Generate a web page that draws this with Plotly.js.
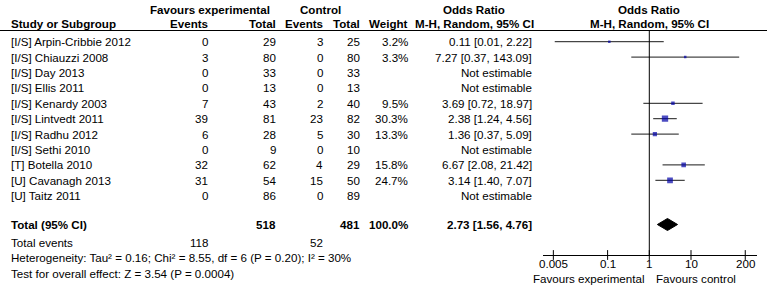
<!DOCTYPE html>
<html>
<head>
<meta charset="utf-8">
<script src="https://cdn.plot.ly/plotly-3.0.1.min.js"></script>
<style>html,body{margin:0;padding:0;background:#fff;}#chart{width:767px;height:294px;}</style>
</head>
<body>
<div id="chart"></div>
<script>
// ---- data ----
const studies = ["[I/S] Arpin-Cribbie 2012", "[I/S] Chiauzzi 2008", "[I/S] Day 2013", "[I/S] Ellis 2011", "[I/S] Kenardy 2003", "[I/S] Lintvedt 2011", "[I/S] Radhu 2012", "[I/S] Sethi 2010", "[T] Botella 2010", "[U] Cavanagh 2013", "[U] Taitz 2011"];
const expEvents = [0, 3, 0, 0, 7, 39, 6, 0, 32, 31, 0];
const expTotal = [29, 80, 33, 13, 43, 81, 28, 9, 62, 54, 86];
const ctlEvents = [3, 0, 0, 0, 2, 23, 5, 0, 4, 15, 0];
const ctlTotal = [25, 80, 33, 13, 40, 82, 30, 10, 29, 50, 89];
const weights = [3.2, 3.3, null, null, 9.5, 30.3, 13.3, null, 15.8, 24.7, null];
const oddsRatio = [0.11, 7.27, null, null, 3.69, 2.38, 1.36, null, 6.67, 3.14, null];
const ciLow = [0.0054, 0.37, null, null, 0.72, 1.24, 0.37, null, 2.08, 1.40, null];
const ciHigh = [2.22, 143.09, null, null, 18.97, 4.56, 5.09, null, 21.42, 7.07, null];
const totalExp = 518, totalCtl = 481, totalWeight = 100.0;
const totalEventsExp = 118, totalEventsCtl = 52;
const pooledOR = 2.73, pooledLow = 1.56, pooledHigh = 4.76;
const heterogeneityText = "Heterogeneity: Tau² = 0.16; Chi² = 8.55, df = 6 (P = 0.20); I² = 30%";
const overallEffectText = "Test for overall effect: Z = 3.54 (P = 0.0004)";
const tickVals = [0.005, 0.1, 1, 10, 200];
const tickText = ["0.005", "0.1", "1", "10", "200"];

// ---- layout helpers ----
const W = 767, H = 294;
const FONT = "Liberation Sans, Arial, sans-serif";
const FS = 11.6;
const px = x => x / W;
const py = y => 1 - y / H;
const rowY0 = 41.7, rowStep = 15.4;       // pixel y of row 0 and row spacing
const rowOf = pix => (pix - rowY0) / rowStep;
const totalRow = rowOf(224.5);
const axisRow = rowOf(255);

const ann = [];
function txt(text, x, y, anchor, bold, yref) {
  ann.push({
    text: bold ? "<b>" + text + "</b>" : text,
    x: px(x), xref: "paper", xanchor: anchor,
    y: yref === "y" ? y : py(y), yref: yref === "y" ? "y" : "paper", yanchor: "middle",
    showarrow: false, borderpad: 0,
    font: {family: FONT, size: FS, color: "#000"}
  });
}
const fmtCI = (e, l, h) => e.toFixed(2) + " [" + l.toFixed(2) + ", " + h.toFixed(2) + "]";

// headers
txt("Favours experimental", 210, 9, "center", true);
txt("Control", 320, 9, "center", true);
txt("Odds Ratio", 474, 9, "center", true);
txt("Odds Ratio", 649, 9, "center", true);
txt("Study or Subgroup", 10, 24, "left", true);
txt("Events", 209, 24, "right", true);
txt("Total", 277, 24, "right", true);
txt("Events", 324, 24, "right", true);
txt("Total", 361, 24, "right", true);
txt("Weight", 409, 24, "right", true);
txt("M-H, Random, 95% CI", 475, 24, "center", true);
txt("M-H, Random, 95% CI", 649, 24, "center", true);

// study rows
studies.forEach((s, i) => {
  txt(s, 10, i, "left", false, "y");
  txt(String(expEvents[i]), 209, i, "right", false, "y");
  txt(String(expTotal[i]), 277, i, "right", false, "y");
  txt(String(ctlEvents[i]), 324, i, "right", false, "y");
  txt(String(ctlTotal[i]), 361, i, "right", false, "y");
  if (weights[i] !== null) txt(weights[i].toFixed(1) + "%", 409, i, "right", false, "y");
  txt(oddsRatio[i] !== null ? fmtCI(oddsRatio[i], ciLow[i], ciHigh[i]) : "Not estimable", 533, i, "right", false, "y");
});

// totals
txt("Total (95% CI)", 10, totalRow, "left", true, "y");
txt(String(totalExp), 277, totalRow, "right", true, "y");
txt(String(totalCtl), 361, totalRow, "right", true, "y");
txt(totalWeight.toFixed(1) + "%", 409, totalRow, "right", true, "y");
txt(fmtCI(pooledOR, pooledLow, pooledHigh), 533, totalRow, "right", true, "y");
txt("Total events", 10, 242, "left", false);
txt(String(totalEventsExp), 209, 242, "right", false);
txt(String(totalEventsCtl), 324, 242, "right", false);
txt(heterogeneityText, 10, 257.3, "left", false);
txt(overallEffectText, 10, 273.3, "left", false);
txt("Favours experimental", 645, 278.5, "right", false);
txt("Favours control", 655, 278.5, "left", false);

// tick labels on the log axis
tickVals.forEach((v, i) => {
  ann.push({
    text: tickText[i], x: Math.log10(v), xref: "x", xanchor: "center",
    y: py(263.5), yref: "paper", yanchor: "middle", showarrow: false, borderpad: 0,
    font: {family: FONT, size: FS, color: "#000"}
  });
});

// ---- traces ----
const ciX = [], ciY = [];
const ptX = [], ptY = [], ptS = [];
studies.forEach((s, i) => {
  if (oddsRatio[i] === null) return;
  ciX.push(ciLow[i], ciHigh[i], null);
  ciY.push(i, i, null);
  ptX.push(oddsRatio[i]); ptY.push(i); ptS.push(Math.max(2.5, 1.15 * Math.sqrt(weights[i])));
});
const dh = 0.39;
const traces = [
  {type: "scatter", mode: "lines", x: ciX, y: ciY, line: {color: "#1a1a1a", width: 1}, hoverinfo: "skip", showlegend: false},
  {type: "scatter", mode: "markers", x: ptX, y: ptY, marker: {symbol: "square", color: "#0000a8", size: ptS, line: {width: 0}}, showlegend: false},
  {type: "scatter", mode: "lines", x: [pooledLow, pooledOR, pooledHigh, pooledOR, pooledLow],
   y: [totalRow, totalRow - dh, totalRow, totalRow + dh, totalRow], fill: "toself", fillcolor: "#000",
   line: {color: "#000", width: 1}, showlegend: false},
  {type: "scatter", mode: "markers", x: tickVals, y: tickVals.map(() => axisRow),
   marker: {symbol: "line-ns", size: 7, line: {color: "#000", width: 1}}, hoverinfo: "skip", showlegend: false}
];

const logL = (542.7 - 649.3) / 41.7, logR = (756.7 - 649.3) / 41.7;
const layout = {
  width: W, height: H,
  margin: {l: 0, r: 0, t: 0, b: 0},
  paper_bgcolor: "#fff", plot_bgcolor: "rgba(0,0,0,0)",
  showlegend: false,
  xaxis: {
    type: "log", domain: [px(542.7), px(756.7)], range: [logL, logR],
    anchor: "free", position: py(255),
    showline: true, linecolor: "#000", linewidth: 1,
    showgrid: false, zeroline: false,
    tickvals: tickVals, ticks: "", showticklabels: false
  },
  yaxis: {
    domain: [0, 1], range: [rowOf(H), rowOf(0)], autorange: false,
    visible: false, showgrid: false, zeroline: false
  },
  shapes: [
    {type: "line", xref: "paper", yref: "paper", x0: 0, x1: 1, y0: py(30.5), y1: py(30.5), line: {color: "#000", width: 1}},
    {type: "line", xref: "x", yref: "paper", x0: 1, x1: 1, y0: py(30.5), y1: py(255), line: {color: "#000", width: 1}}
  ],
  annotations: ann
};
Plotly.newPlot("chart", traces, layout, {displayModeBar: false, staticPlot: true});
</script>
</body>
</html>
